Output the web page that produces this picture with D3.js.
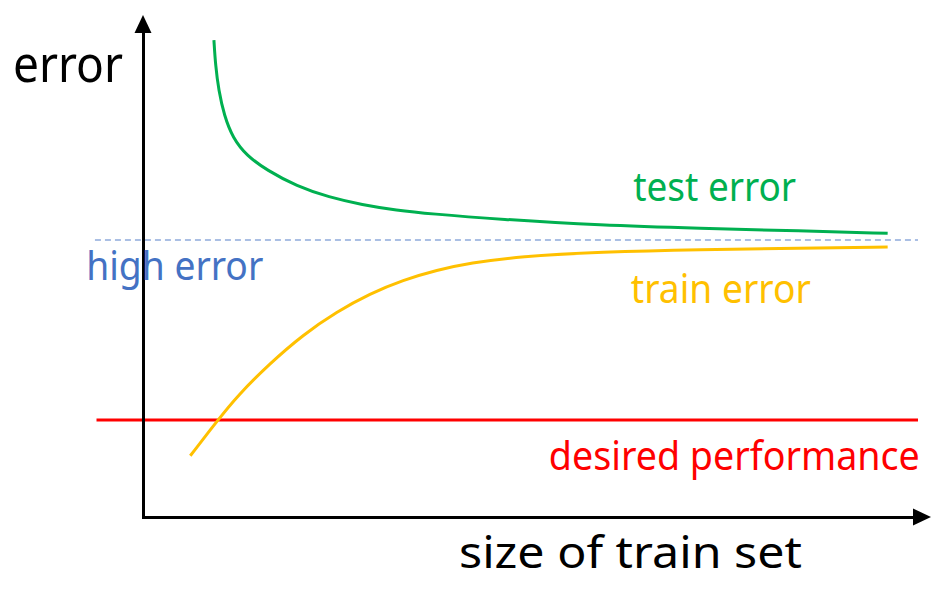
<!DOCTYPE html>
<html>
<head>
<meta charset="utf-8">
<script src="https://cdn.jsdelivr.net/npm/d3@7"></script>
<style>
  html, body { margin: 0; padding: 0; background: #fff; }
  svg { display: block; }
  text { font-family: "Noto Sans", "DejaVu Sans", sans-serif; }
</style>
</head>
<body>
<script>
// ---- data (train-set size on a 0..100 scale, error on a 0..100 scale) ----
const testSize  = [9.0, 9.2, 9.6, 10.3, 11.4, 13.15, 15.7, 19.5, 23.6, 27.8, 32.2, 36.4, 45.3, 58.0, 70.7, 83.4, 94.5];
const testError = [95.0, 90.0, 85.0, 80.0, 75.5, 72.0, 69.1, 65.9, 63.7, 62.2, 61.1, 60.4, 59.3, 58.1, 57.5, 57.0, 56.5];

const trainSize  = [6.0, 9.5, 11.9, 16.1, 20.3, 24.6, 28.8, 33.0, 37.3, 41.5, 47.8, 58.0, 70.7, 83.4, 94.5];
const trainError = [12.2, 19.3, 24.0, 30.6, 36.3, 40.9, 44.5, 47.2, 49.2, 50.6, 51.9, 52.8, 53.3, 53.5, 53.8];

const refLevels = [
  { name: "high error",          value: 55.2, from: -6.1, to: 98.35 },
  { name: "desired performance", value: 19.3, from: -5.9, to: 98.35 }
];

const labels = [
  { text: "error",               x: -16.5, y: 86.7, size: 51, len: 110, color: "#000000" },
  { text: "test error",          x: 62.2,  y: 62.9, size: 40, len: 163, color: "#00b050" },
  { text: "high error",          x: -7.2,  y: 47.2, size: 40, len: 177, color: "#4472c4" },
  { text: "train error",         x: 61.9,  y: 42.6, size: 40, len: 180, color: "#ffc000" },
  { text: "desired performance", x: 51.5,  y: 9.4,  size: 40, len: 371, color: "#ff0000" },
  { text: "size of train set",   x: 40.1,  y: -10.2, size: 43, len: 343, color: "#000000" }
];

// ---- layout ----
const W = 949, H = 592;
const x = d3.scaleLinear().domain([0, 100]).range([143, 931]);
const y = d3.scaleLinear().domain([0, 100]).range([517, 15]);

const svg = d3.select("body").append("svg").attr("width", W).attr("height", H);

// reference lines
const dashed = refLevels[0], solid = refLevels[1];
svg.append("line")
  .attr("x1", x(dashed.from)).attr("x2", x(dashed.to))
  .attr("y1", y(dashed.value)).attr("y2", y(dashed.value))
  .attr("stroke", "#8faadc").attr("stroke-width", 1.5)
  .attr("stroke-dasharray", "6,4");

svg.append("line")
  .attr("x1", x(solid.from)).attr("x2", x(solid.to))
  .attr("y1", y(solid.value)).attr("y2", y(solid.value))
  .attr("stroke", "#ff0000").attr("stroke-width", 3);

// curves
const line = d3.line().x(d => x(d[0])).y(d => y(d[1])).curve(d3.curveBasis);

svg.append("path")
  .datum(testSize.map((s, i) => [s, testError[i]]))
  .attr("d", line).attr("fill", "none")
  .attr("stroke", "#00b050").attr("stroke-width", 3);

svg.append("path")
  .datum(trainSize.map((s, i) => [s, trainError[i]]))
  .attr("d", line).attr("fill", "none")
  .attr("stroke", "#ffc000").attr("stroke-width", 3);

// axes (no ticks) with arrowheads
const ax = svg.append("g").attr("transform", `translate(0,${y(0)})`)
  .call(d3.axisBottom(x.copy().range([141.5, x(100) - 16])).tickValues([]).tickSizeOuter(0));
ax.select(".domain").attr("stroke", "#000").attr("stroke-width", 3);

const ay = svg.append("g").attr("transform", `translate(${x(0)},0)`)
  .call(d3.axisLeft(y.copy().range([y(0) + 1.5, y(100) + 16])).tickValues([]).tickSizeOuter(0));
ay.select(".domain").attr("stroke", "#000").attr("stroke-width", 3);

// arrowheads
svg.append("path")
  .attr("d", `M${x(100)},${y(0)} L${x(100) - 18},${y(0) - 8.5} L${x(100) - 18},${y(0) + 8.5} Z`)
  .attr("fill", "#000");
svg.append("path")
  .attr("d", `M${x(0)},${y(100)} L${x(0) - 8.5},${y(100) + 18} L${x(0) + 8.5},${y(100) + 18} Z`)
  .attr("fill", "#000");

// labels
svg.selectAll("text.lbl").data(labels).join("text")
  .attr("class", "lbl")
  .attr("x", d => x(d.x)).attr("y", d => y(d.y))
  .attr("font-size", d => d.size)
  .attr("fill", d => d.color)
  .attr("textLength", d => d.len)
  .attr("lengthAdjust", "spacingAndGlyphs")
  .text(d => d.text);
</script>
</body>
</html>
